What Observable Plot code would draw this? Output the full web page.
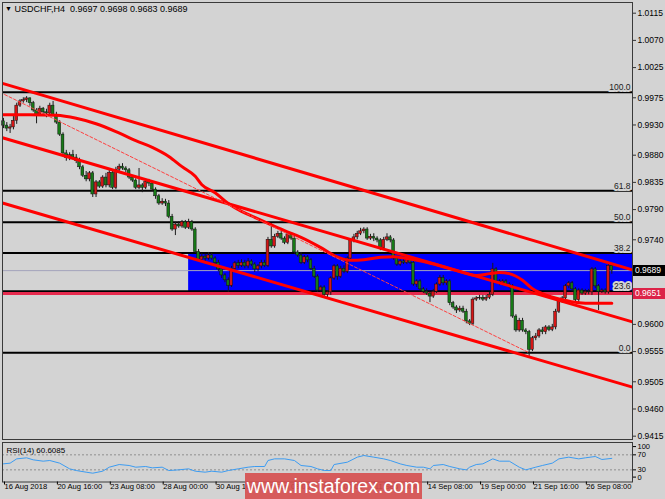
<!DOCTYPE html>
<html><head><meta charset="utf-8">
<script src="https://cdn.jsdelivr.net/npm/d3@7"></script>
<script src="https://cdn.jsdelivr.net/npm/@observablehq/plot@0.6"></script>
<style>
html,body{margin:0;padding:0;background:#d3d3d3;}
#chart{position:relative;width:665px;height:499px;overflow:hidden;background:#d3d3d3;font-family:"Liberation Sans",Arial,sans-serif;}
#chart svg{position:absolute;left:0;}
.title{position:absolute;left:5px;top:3px;font-size:9px;line-height:12px;color:#000;white-space:pre;}
.title .tri{font-size:7px;vertical-align:1px;}
.tag{position:absolute;left:633px;width:32px;height:11px;color:#fff;font-size:8.5px;line-height:11px;padding-left:2px;box-sizing:border-box;}
.wm{position:absolute;left:245px;top:473px;width:177px;height:27px;background:rgba(214,78,78,0.9);color:#fff;font-size:19.5px;line-height:26px;text-align:center;}
</style></head>
<body><div id="chart"></div>
<script>
// ---------- data ----------
const symbolTitle = "USDCHF,H4  0.9697 0.9698 0.9683 0.9689";
const open = [
.9936,.9929,.9924,.9926,.9937,.9962,.9969,.9971,.9974,.9966,
.9954,.9947,.9957,.9951,.9949,.9962,.9947,.9934,.9914,.9883,
.9875,.9880,.9876,.9870,.9860,.9846,.9840,.9850,.9815,.9835,
.9828,.9843,.9830,.9851,.9826,.9856,.9861,.9858,.9855,.9843,
.9838,.9826,.9830,.9826,.9836,.9833,.9823,.9812,.9800,.9803,
.9800,.9778,.9757,.9765,.9762,.9769,.9760,.9769,.9757,.9720,
.9707,.9712,.9709,.9714,.9709,.9702,.9691,.9681,.9673,.9664,
.9692,.9701,.9697,.9702,.9696,.9704,.9699,.9691,.9696,.9702,
.9697,.9740,.9729,.9745,.9750,.9742,.9735,.9749,.9742,.9719,
.9714,.9702,.9711,.9706,.9692,.9679,.9656,.9661,.9649,.9653,
.9676,.9696,.9679,.9692,.9687,.9709,.9739,.9744,.9750,.9754,
.9757,.9742,.9745,.9742,.9739,.9726,.9740,.9744,.9739,.9709,
.9699,.9704,.9702,.9706,.9702,.9666,.9671,.9658,.9654,.9651,
.9646,.9654,.9666,.9677,.9668,.9671,.9635,.9628,.9623,.9626,
.9621,.9605,.9601,.9641,.9643,.9644,.9641,.9644,.9649,.9691,
.9671,.9668,.9671,.9666,.9663,.9613,.9590,.9606,.9590,.9587,
.9558,.9577,.9580,.9590,.9587,.9595,.9591,.9595,.9621,.9638,
.9643,.9663,.9668,.9658,.9640,.9656,.9651,.9654,.9653,.9691,
.9663,.9654,.9656,.9653,.9697];
const high = [
.9941,.9934,.9931,.9944,.9966,.9972,.9975,.9977,.9975,.9969,
.9957,.9961,.9959,.9956,.9966,.9969,.9951,.9937,.9917,.9888,
.9884,.9888,.9881,.9875,.9863,.9853,.9853,.9853,.9838,.9838,
.9846,.9850,.9855,.9855,.9860,.9865,.9866,.9861,.9858,.9846,
.9841,.9858,.9833,.9840,.9840,.9836,.9826,.9815,.9808,.9807,
.9805,.9782,.9769,.9770,.9772,.9772,.9774,.9772,.9760,.9724,
.9717,.9716,.9719,.9717,.9712,.9706,.9694,.9684,.9677,.9696,
.9704,.9706,.9707,.9706,.9709,.9707,.9702,.9699,.9706,.9706,
.9744,.9767,.9749,.9754,.9754,.9745,.9752,.9752,.9745,.9722,
.9719,.9714,.9714,.9709,.9696,.9682,.9664,.9664,.9656,.9679,
.9699,.9699,.9696,.9697,.9712,.9742,.9749,.9754,.9759,.9760,
.9760,.9749,.9750,.9745,.9742,.9744,.9750,.9747,.9742,.9712,
.9707,.9709,.9709,.9709,.9706,.9674,.9674,.9661,.9659,.9654,
.9658,.9669,.9681,.9681,.9674,.9674,.9638,.9631,.9630,.9630,
.9625,.9608,.9644,.9646,.9648,.9648,.9648,.9653,.9701,.9694,
.9674,.9674,.9674,.9669,.9666,.9616,.9610,.9610,.9593,.9590,
.9580,.9585,.9593,.9595,.9598,.9598,.9600,.9625,.9641,.9646,
.9666,.9671,.9671,.9661,.9659,.9659,.9658,.9658,.9694,.9694,
.9666,.9659,.9659,.9701,.9698];
const low = [
.9924,.9919,.9916,.9922,.9931,.9959,.9966,.9967,.9961,.9951,
.9932,.9944,.9946,.9942,.9946,.9944,.9931,.9911,.9880,.9870,
.9871,.9873,.9866,.9856,.9843,.9836,.9836,.9810,.9810,.9825,
.9825,.9826,.9826,.9823,.9823,.9853,.9855,.9851,.9840,.9835,
.9823,.9823,.9818,.9823,.9828,.9820,.9807,.9797,.9797,.9795,
.9775,.9754,.9747,.9759,.9759,.9757,.9757,.9754,.9717,.9704,
.9704,.9704,.9706,.9706,.9699,.9687,.9676,.9669,.9653,.9661,
.9689,.9692,.9694,.9692,.9692,.9696,.9686,.9687,.9692,.9694,
.9694,.9726,.9726,.9742,.9739,.9732,.9732,.9739,.9716,.9711,
.9699,.9699,.9702,.9689,.9676,.9653,.9653,.9646,.9644,.9648,
.9673,.9673,.9676,.9684,.9684,.9706,.9735,.9740,.9747,.9750,
.9739,.9739,.9737,.9735,.9722,.9722,.9737,.9735,.9706,.9696,
.9696,.9699,.9699,.9699,.9663,.9661,.9654,.9651,.9648,.9636,
.9643,.9651,.9663,.9664,.9664,.9631,.9625,.9618,.9620,.9618,
.9601,.9598,.9598,.9638,.9640,.9638,.9638,.9641,.9646,.9668,
.9664,.9664,.9663,.9659,.9610,.9587,.9587,.9587,.9583,.9547,
.9555,.9573,.9577,.9583,.9583,.9588,.9588,.9591,.9618,.9635,
.9640,.9659,.9654,.9636,.9636,.9648,.9648,.9649,.9648,.9659,
.9623,.9651,.9650,.9650,.9683];
const close = [
.9929,.9924,.9926,.9937,.9962,.9969,.9971,.9974,.9966,.9954,
.9947,.9957,.9951,.9949,.9962,.9947,.9934,.9914,.9883,.9875,
.9880,.9876,.9870,.9860,.9846,.9840,.9850,.9815,.9835,.9828,
.9843,.9830,.9851,.9826,.9856,.9861,.9858,.9855,.9843,.9838,
.9826,.9830,.9826,.9836,.9833,.9823,.9812,.9800,.9803,.9800,
.9778,.9757,.9765,.9762,.9769,.9760,.9769,.9757,.9720,.9707,
.9712,.9709,.9714,.9709,.9702,.9691,.9681,.9673,.9664,.9692,
.9701,.9697,.9702,.9696,.9704,.9699,.9691,.9696,.9702,.9697,
.9740,.9729,.9745,.9750,.9742,.9735,.9749,.9742,.9719,.9714,
.9702,.9711,.9706,.9692,.9679,.9656,.9661,.9649,.9653,.9676,
.9696,.9679,.9692,.9687,.9709,.9739,.9744,.9750,.9754,.9757,
.9742,.9745,.9742,.9739,.9726,.9740,.9744,.9739,.9709,.9699,
.9704,.9702,.9706,.9702,.9666,.9671,.9658,.9654,.9651,.9646,
.9654,.9666,.9677,.9668,.9671,.9635,.9628,.9623,.9626,.9621,
.9605,.9601,.9641,.9643,.9644,.9641,.9644,.9649,.9691,.9671,
.9668,.9671,.9666,.9663,.9613,.9590,.9606,.9590,.9587,.9558,
.9577,.9580,.9590,.9587,.9595,.9591,.9595,.9621,.9638,.9643,
.9663,.9668,.9658,.9640,.9656,.9651,.9654,.9653,.9691,.9663,
.9654,.9656,.9653,.9697,.9689];

const priceTicks = [1.0115,1.0070,1.0025,0.9975,0.9930,0.9880,0.9835,0.9790,0.9740,0.9600,0.9555,0.9505,0.9460,0.9415];
const dateTickBars = [0,16,32,48,64,80,96,112,128,144,160,176];
const dateTickLabels = ["16 Aug 2018","20 Aug 16:00","23 Aug 08:00","28 Aug 00:00","30 Aug 16:00","4 Sep 08:00","7 Sep 00:00","11 Sep 16:00","14 Sep 08:00","19 Sep 00:00","21 Sep 16:00","26 Sep 08:00"];

const fibLabels = ["100.0","61.8","50.0","38.2","23.6","0.0"];
const fibPrices = [0.9984,0.9821,0.9769,0.9718,0.9655,0.9553];
const fibDiagBars = [-1,159];
const fibDiagPrices = [0.9984,0.9553];

const zoneBars = [56,191];
const zonePrices = [0.9718,0.9648];

const currentPrice = 0.9689;
const supportPrice = 0.9651;

const channelBars = [-1,191];
const channelUpper = [1.0000,0.9689];
const channelMiddle = [0.9910,0.9603];
const channelLower = [0.9802,0.9495];

const maBars = [-1,8,16,22,28,34,40,45,50,54,58,60,64,68,72,76,80,85,90,96,100,105,109,114,118,122,127,132,137,143,147,150,153,157,160,163,169,174,178,184];
const maValues = [0.9947,0.9947,0.9946,0.9941,0.9932,0.9919,0.9904,0.9893,0.9878,0.9861,0.9845,0.9831,0.9818,0.9800,0.9787,0.9777,0.9767,0.9755,0.9744,0.9727,0.9714,0.9706,0.9707,0.9711,0.9712,0.9709,0.9704,0.9697,0.9689,0.9681,0.9684,0.9686,0.9684,0.9673,0.9659,0.9651,0.9641,0.9636,0.9635,0.9635];

const rsiTitle = "RSI(14) 60.6085";
const rsiLevels = [30,70];
const rsiBars = [0,2,4,7,9,12,14,17,20,22,25,27,30,32,35,38,40,43,45,48,50,53,56,58,61,63,66,68,71,74,76,79,80,82,85,88,90,93,95,97,99,100,104,107,109,112,115,117,120,122,125,127,129,130,133,135,138,140,141,143,145,148,150,153,156,158,161,163,166,168,171,174,176,179,181,184];
const rsiValues = [46.0,47.8,59.3,62.0,56.7,53.1,54.9,47.8,32.7,28.2,23.8,21.1,26.4,37.1,44.2,41.6,37.1,38.9,35.3,37.1,28.2,30.0,32.7,26.4,23.8,26.4,23.8,28.2,32.7,37.1,38.9,38.9,54.9,59.3,59.3,54.9,41.6,38.9,32.7,28.2,28.2,44.2,50.4,63.8,68.2,63.8,59.3,54.9,46.0,41.6,37.1,37.1,32.7,41.6,44.2,38.9,32.7,30.0,37.1,44.2,46.0,59.3,53.1,53.1,37.1,30.0,37.1,41.6,47.8,59.3,63.8,59.3,62.0,65.6,57.6,60.6];

const watermark = "www.instaforex.com";

// ---------- build ----------
const candles = close.map((c, i) => ({i, o: open[i], h: high[i], l: low[i], c}));
const ma = maBars.map((b, k) => ({b, v: maValues[k]}));
const rsi = rsiBars.map((b, k) => ({b, v: rsiValues[k]}));
const fib = fibPrices.map((p, k) => ({p, label: fibLabels[k]}));
const channels = [
  ...channelBars.map((b, k) => ({name: "upper", b, v: channelUpper[k]})),
  ...channelBars.map((b, k) => ({name: "middle", b, v: channelMiddle[k]})),
  ...channelBars.map((b, k) => ({name: "lower", b, v: channelLower[k]}))
];
const diag = fibDiagBars.map((b, k) => ({b, v: fibDiagPrices[k]}));
const zone = [{x1: zoneBars[0], x2: zoneBars[1], y1: zonePrices[0], y2: zonePrices[1]}];

const xDomain = [-0.3, 190.26];
const font = "'Liberation Sans', Arial, sans-serif";
const bull = "#d41616", bear = "#167a16";

const main = Plot.plot({
  width: 665, height: 441,
  marginLeft: 2, marginRight: 33, marginTop: 2, marginBottom: 2,
  style: {background: "transparent", fontFamily: font, fontSize: "8.5px", color: "#000", overflow: "visible"},
  x: {domain: xDomain, axis: null, label: null},
  y: {domain: [0.94095, 1.01327], axis: null, label: null},
  marks: [
    Plot.rect(zone, {x1: "x1", x2: "x2", y1: "y1", y2: "y2", fill: "#0000ff", clip: true}),
    Plot.ruleY([currentPrice], {stroke: "#a4a4bc", strokeWidth: 1}),
    Plot.ruleY(fib, {y: "p", stroke: "#000", strokeWidth: 2}),
    Plot.ruleY([supportPrice], {stroke: "#e62a4e", strokeWidth: 3}),
    Plot.ruleX(candles, {x: "i", y1: "l", y2: "h", stroke: "#1a1a1a", strokeWidth: 1}),
    Plot.rect(candles, {x1: d => d.i - 0.42, x2: d => d.i + 0.42, y1: "o", y2: "c",
      fill: d => d.c >= d.o ? bull : bear, stroke: "#111", strokeWidth: 0.5}),
    Plot.line(ma, {x: "b", y: "v", stroke: "#ff0000", strokeWidth: 3, curve: "monotone-x", clip: true}),
    Plot.line(channels, {x: "b", y: "v", z: "name", stroke: "#ff0000", strokeWidth: 3, clip: true}),
    Plot.line(diag, {x: "b", y: "v", stroke: "#ff4040", strokeWidth: 1, strokeDasharray: "3,2", clip: true}),
    Plot.text(fib, {y: "p", text: "label", frameAnchor: "right", textAnchor: "end", dx: -2, dy: -5, fontSize: 8.5,
      fill: "#222", stroke: "#d3d3d3", strokeWidth: 4, paintOrder: "stroke"}),
    Plot.frame({stroke: "#3a3a3a"}),
    Plot.axisY(priceTicks, {anchor: "right", label: null, tickSize: 3, tickPadding: 2, tickFormat: d => d.toFixed(4), fontSize: 8.5, stroke: "#333"})
  ]
});

const rsiPlot = Plot.plot({
  width: 665, height: 58,
  marginLeft: 2, marginRight: 33, marginTop: 1, marginBottom: 17.5,
  style: {background: "transparent", fontFamily: font, fontSize: "8px", color: "#000", overflow: "visible"},
  x: {domain: xDomain, axis: null, label: null},
  y: {domain: [-2.4, 102.9], axis: null, label: null},
  marks: [
    Plot.ruleY(rsiLevels, {stroke: "#8e8e8e", strokeDasharray: "2,2"}),
    Plot.line(rsi, {x: "b", y: "v", stroke: "#3c9cf2", strokeWidth: 1}),
    Plot.text([rsiTitle], {frameAnchor: "top-left", dx: 4, dy: 5, fontSize: 8, fill: "#000", lineAnchor: "top"}),
    Plot.frame({stroke: "#3a3a3a"}),
    Plot.axisY(rsiLevels, {anchor: "right", label: null, tickSize: 3, tickPadding: 2, fontSize: 7.5}),
    Plot.axisY([100], {anchor: "right", label: null, tickSize: 3, tickPadding: 2, fontSize: 7.5, dy: 3}),
    Plot.axisY([0], {anchor: "right", label: null, tickSize: 3, tickPadding: 2, fontSize: 7.5, dy: -4}),
    Plot.axisX(dateTickBars, {anchor: "bottom", label: null, tickSize: 3, tickPadding: -1, fontSize: 7.6,
      tickFormat: d => dateTickLabels[dateTickBars.indexOf(d)], textAnchor: "start", dx: 1})
  ]
});

const root = document.getElementById("chart");
main.style.top = "0px";
rsiPlot.style.top = "441px";
root.appendChild(main);
root.appendChild(rsiPlot);

const title = document.createElement("div");
title.className = "title";
title.innerHTML = '<span class="tri">\u25BC</span> ';
title.appendChild(document.createTextNode(symbolTitle));
root.appendChild(title);

const ys = main.scale("y");
function tag(price, bg) {
  const t = document.createElement("div");
  t.className = "tag";
  t.style.background = bg;
  t.style.top = (ys.apply(price) - 5.5) + "px";
  t.textContent = price.toFixed(4);
  root.appendChild(t);
}
tag(currentPrice, "#000");
tag(supportPrice, "#dc2348");

const wm = document.createElement("div");
wm.className = "wm";
wm.textContent = watermark;
root.appendChild(wm);
</script></body></html>
